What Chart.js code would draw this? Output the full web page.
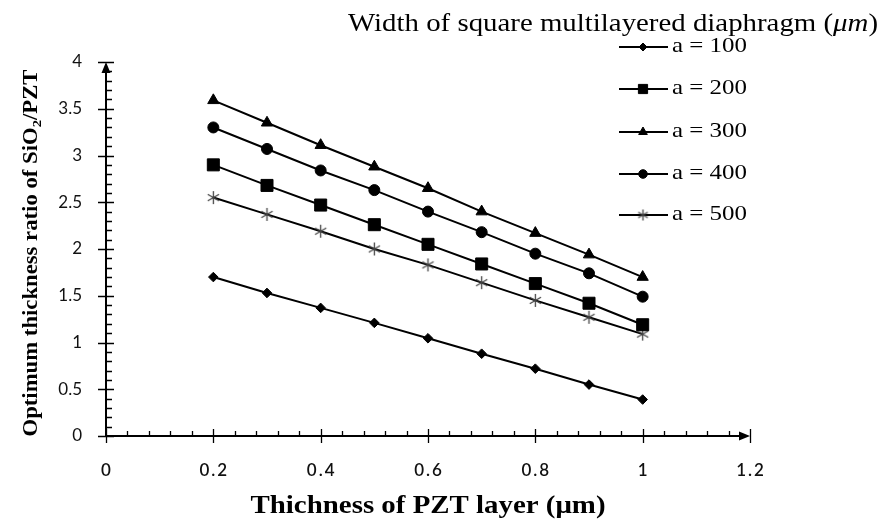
<!DOCTYPE html>
<html>
<head>
<meta charset="utf-8">
<script src="https://cdn.jsdelivr.net/npm/chart.js@4.4.1/dist/chart.umd.min.js"></script>
<style>
  html, body { margin: 0; padding: 0; background: #fff; }
  canvas { display: block; }
</style>
</head>
<body>
<canvas id="ratioChart" width="893" height="520"></canvas>
<script>
// PZT layer thickness (um) for every series
const xValues = [0.2, 0.3, 0.4, 0.5, 0.6, 0.7, 0.8, 0.9, 1.0];

// optimum SiO2/PZT thickness ratio per diaphragm width
const a100 = [1.70, 1.53, 1.37, 1.21, 1.045, 0.88, 0.72, 0.55, 0.39];
const a200 = [2.90, 2.68, 2.47, 2.26, 2.05, 1.84, 1.63, 1.42, 1.19];
const a300 = [3.59, 3.35, 3.11, 2.88, 2.65, 2.40, 2.17, 1.94, 1.70];
const a400 = [3.30, 3.07, 2.84, 2.63, 2.40, 2.18, 1.95, 1.74, 1.49];
const a500 = [2.55, 2.37, 2.19, 2.00, 1.83, 1.64, 1.45, 1.27, 1.09];

const seriesLabels = ['a = 100', 'a = 200', 'a = 300', 'a = 400', 'a = 500'];

const xTickValues = [0, 0.2, 0.4, 0.6, 0.8, 1, 1.2];
const yTickValues = [0, 0.5, 1, 1.5, 2, 2.5, 3, 3.5, 4];
const xMinorStep = 0.04;
const yMinorStep = 0.1;

// six-armed asterisk used as the marker of the last series
function makeAsterisk(r) {
    const c = document.createElement('canvas');
    const s = Math.ceil(r * 2 + 2);
    c.width = s; c.height = s;
    const g = c.getContext('2d');
    g.strokeStyle = '#444';
    g.lineWidth = 1.3;
    g.beginPath();
    for (let k = 0; k < 3; k++) {
        const ang = Math.PI / 2 + k * Math.PI / 3;
        const dx = Math.cos(ang) * r, dy = Math.sin(ang) * r;
        g.moveTo(s / 2 - dx, s / 2 - dy);
        g.lineTo(s / 2 + dx, s / 2 + dy);
    }
    g.stroke();
    return c;
}

const markers = [
    { pointStyle: 'rectRot', radius: 4.8 },
    { pointStyle: 'rect', radius: 8.5 },
    { pointStyle: 'triangle', radius: 6.5 },
    { pointStyle: 'circle', radius: 5.5 },
    { pointStyle: makeAsterisk(6.5), radius: 6.5 }
];
const legendMarkers = [
    { pointStyle: 'rectRot', radius: 4 },
    { pointStyle: 'rect', radius: 6.5 },
    { pointStyle: 'triangle', radius: 5 },
    { pointStyle: 'circle', radius: 4.3 },
    { pointStyle: makeAsterisk(5.5), radius: 5.5 }
];

function toPoints(values) {
    return values.map((v, i) => ({ x: xValues[i], y: v }));
}

const seriesValues = [a100, a200, a300, a400, a500];
const datasets = seriesValues.map((vals, i) => ({
    label: seriesLabels[i],
    data: toPoints(vals),
    borderColor: '#000',
    backgroundColor: '#000',
    borderWidth: 2,
    pointStyle: markers[i].pointStyle,
    pointRadius: markers[i].radius,
    pointBorderWidth: 1,
    pointBorderColor: '#000',
    pointBackgroundColor: '#000',
    tension: 0
}));

const serif = '"Liberation Serif", "Times New Roman", serif';

// plain number labels: 4, 3.5, 1, 1.2 ...
function plainNumber(value) {
    return String(Number(value.toFixed(2)));
}

// draws a run of [text, font, dy] pieces stretched horizontally to a given width
function fillStretched(ctx, pieces, x, y, width, align) {
    let natural = 0;
    pieces.forEach(p => { ctx.font = p[1]; natural += ctx.measureText(p[0]).width; });
    const k = width / natural;
    ctx.save();
    ctx.translate(align === 'center' ? x - width / 2 : x, y);
    ctx.scale(k, 1);
    ctx.textAlign = 'left';
    let cx = 0;
    pieces.forEach(p => {
        ctx.font = p[1];
        ctx.fillText(p[0], cx, p[2] || 0);
        cx += ctx.measureText(p[0]).width;
    });
    ctx.restore();
}

// axes with arrows, crossing major ticks and inner minor ticks
const axisLines = {
    id: 'axisLines',
    beforeDatasetsDraw(chart) {
        const { ctx } = chart;
        const xs = chart.scales.x, ys = chart.scales.y;
        const ox = xs.getPixelForValue(0), oy = ys.getPixelForValue(0);
        const xEnd = xs.getPixelForValue(1.2), yEnd = ys.getPixelForValue(4);
        ctx.save();
        ctx.strokeStyle = '#000';
        ctx.fillStyle = '#000';
        ctx.lineWidth = 2;
        ctx.beginPath();
        ctx.moveTo(ox, oy); ctx.lineTo(xEnd - 8, oy);
        ctx.moveTo(ox, oy); ctx.lineTo(ox, yEnd + 8);
        ctx.stroke();
        // arrow heads
        ctx.beginPath();
        ctx.moveTo(xEnd, oy); ctx.lineTo(xEnd - 11, oy - 4.5); ctx.lineTo(xEnd - 11, oy + 4.5); ctx.closePath();
        ctx.moveTo(ox, yEnd); ctx.lineTo(ox - 4.5, yEnd + 11); ctx.lineTo(ox + 4.5, yEnd + 11); ctx.closePath();
        ctx.fill();

        ctx.lineWidth = 1.3;
        ctx.beginPath();
        xTickValues.forEach(v => {
            const px = Math.round(xs.getPixelForValue(v)) + 0.5;
            ctx.moveTo(px, oy - 7); ctx.lineTo(px, oy + 7);
        });
        for (let v = xMinorStep; v < 1.2 - 1e-6; v += xMinorStep) {
            if (Math.abs(v / 0.2 - Math.round(v / 0.2)) < 1e-6) continue;
            const px = Math.round(xs.getPixelForValue(v)) + 0.5;
            ctx.moveTo(px, oy); ctx.lineTo(px, oy - 5);
        }
        yTickValues.forEach(v => {
            const py = Math.round(ys.getPixelForValue(v)) + 0.5;
            ctx.moveTo(ox - 8, py); ctx.lineTo(ox + 8, py);
        });
        for (let v = yMinorStep; v < 4 - 1e-6; v += yMinorStep) {
            if (Math.abs(v / 0.5 - Math.round(v / 0.5)) < 1e-6) continue;
            const py = Math.round(ys.getPixelForValue(v)) + 0.5;
            ctx.moveTo(ox, py); ctx.lineTo(ox + 6, py);
        }
        ctx.stroke();
        ctx.restore();
    }
};

// x tick labels, axis titles, caption and legend
const annotations = {
    id: 'annotations',
    afterDraw(chart) {
        const { ctx } = chart;
        const xs = chart.scales.x;
        ctx.save();
        ctx.fillStyle = '#111';

        ctx.font = '600 17px Lato, sans-serif';
        ctx.textAlign = 'center';
        ctx.textBaseline = 'middle';
        ctx.letterSpacing = '2px';
        xs.ticks.forEach(t => {
            ctx.fillText(t.label, xs.getPixelForValue(t.value) + 1, 471);
        });
        ctx.letterSpacing = '0px';

        ctx.fillStyle = '#000';
        ctx.textBaseline = 'alphabetic';
        fillStretched(ctx, [['Thichness of PZT layer (\u03bcm)', 'bold 25px ' + serif]],
            (xs.left + xs.right) / 2, 513, 355, 'center');

        // rotated y title with subscript
        ctx.save();
        ctx.translate(37, 253);
        ctx.rotate(-Math.PI / 2);
        fillStretched(ctx, [
            ['Optimum thickness ratio of SiO', 'bold 20px ' + serif],
            ['2', 'bold 13px ' + serif, 4],
            ['/PZT', 'bold 20px ' + serif]
        ], 0, 0, 367, 'center');
        ctx.restore();

        // caption above the legend
        fillStretched(ctx, [
            ['Width of square multilayered diaphragm (', '26px ' + serif],
            ['\u03bcm', 'italic 26px ' + serif],
            [')', '26px ' + serif]
        ], 348, 31, 530, 'left');

        // legend
        const rowY = [47, 89, 132, 174, 215];
        ctx.textBaseline = 'middle';
        chart.data.datasets.forEach((ds, i) => {
            const y = rowY[i];
            ctx.strokeStyle = '#000';
            ctx.lineWidth = 2;
            ctx.beginPath();
            ctx.moveTo(619, y); ctx.lineTo(668, y);
            ctx.stroke();
            ctx.fillStyle = '#000';
            ctx.lineWidth = 1;
            Chart.helpers.drawPoint(ctx, {
                pointStyle: legendMarkers[i].pointStyle,
                radius: legendMarkers[i].radius,
                rotation: 0,
                borderWidth: 1
            }, 643, y);
            fillStretched(ctx, [[ds.label, '22px ' + serif]], 672, y - 1, 75, 'left');
        });
        ctx.restore();
    }
};

const ctx = document.getElementById('ratioChart');
new Chart(ctx, {
    type: 'line',
    data: { datasets: datasets },
    options: {
        responsive: false,
        animation: false,
        devicePixelRatio: 1,
        layout: { padding: { left: 0, right: 143, top: 62, bottom: 0 } },
        plugins: { legend: { display: false }, tooltip: { enabled: false } },
        scales: {
            x: {
                type: 'linear',
                min: 0,
                max: 1.2,
                afterBuildTicks: s => { s.ticks = xTickValues.map(v => ({ value: v })); },
                afterFit: s => { s.height = 84; },
                grid: { display: false, drawTicks: false },
                border: { display: false },
                ticks: { display: false, callback: plainNumber }
            },
            y: {
                min: 0,
                max: 4,
                afterBuildTicks: s => { s.ticks = yTickValues.map(v => ({ value: v })); },
                afterFit: s => { s.width = 106; },
                grid: { display: false, drawTicks: false },
                border: { display: false },
                ticks: {
                    padding: 24,
                    color: '#111',
                    callback: plainNumber,
                    font: { family: 'Lato, sans-serif', size: 17 }
                }
            }
        }
    },
    plugins: [axisLines, annotations]
});
</script>
</body>
</html>
